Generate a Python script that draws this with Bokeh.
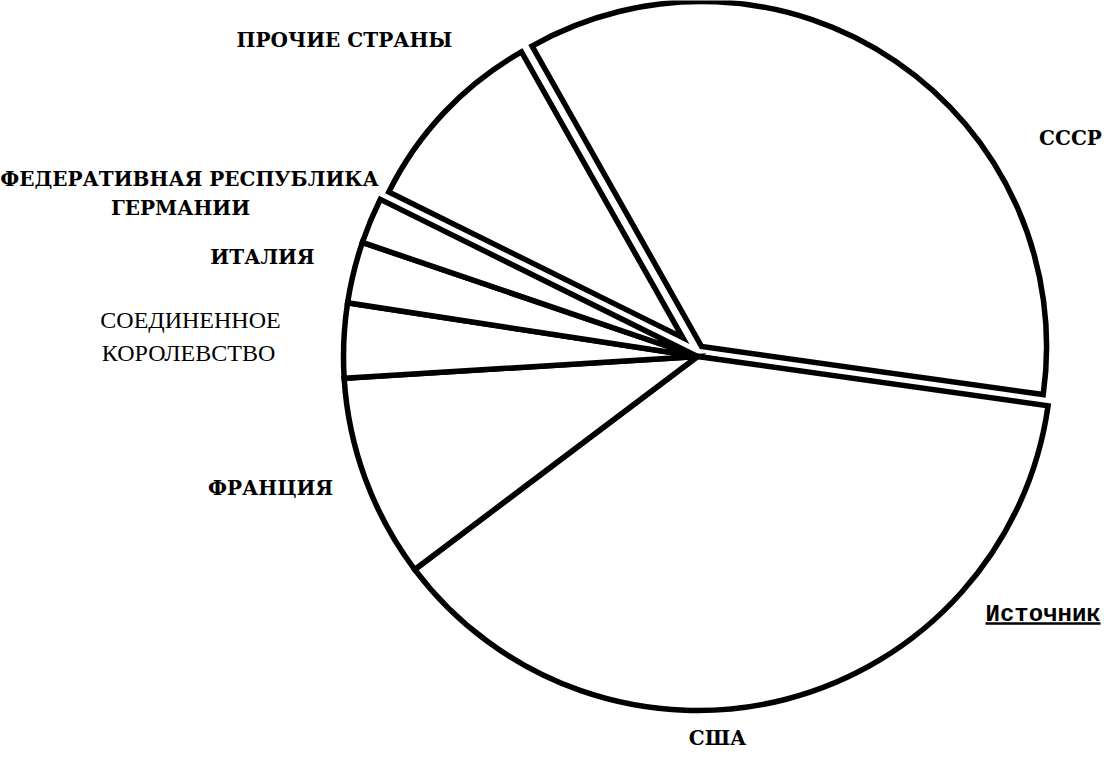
import math
from bokeh.plotting import figure
from bokeh.models import Range1d, Label, ColumnDataSource
from bokeh.embed import file_html
from bokeh.resources import INLINE

# ---------------- data ----------------
countries = ["США", "ФРАНЦИЯ", "СОЕДИНЕННОЕ КОРОЛЕВСТВО", "ИТАЛИЯ",
             "ФЕДЕРАТИВНАЯ РЕСПУБЛИКА ГЕРМАНИИ", "ПРОЧИЕ СТРАНЫ", "СССР"]
shares = [37.5, 9.3, 3.4, 2.8, 2.1, 9.5, 35.4]
label_lines = [["США"], ["ФРАНЦИЯ"], ["СОЕДИНЕННОЕ", "КОРОЛЕВСТВО"], ["ИТАЛИЯ"],
               ["ФЕДЕРАТИВНАЯ РЕСПУБЛИКА", "ГЕРМАНИИ"], ["ПРОЧИЕ СТРАНЫ"], ["СССР"]]
source_text = "Источник"

# ---------------- style / layout ----------------
W, H = 1104, 751
PAGE_H = 767
CX, CY_SCREEN = 705, 364          # pie centre in page pixels
R = 354
START_DEG = -8.0                  # boundary between СССР and США
explode = [0, 0, 0, 0, 0, 24, 10.8]          # pull-out distance (px)
explode_turn = [0, 0, 0, 0, 0, -8.5, 12.0]   # deviation from the bisector (deg)
radius_px = [354, 354, 354, 354, 354, 328, 345]
LINE_W = 5.5

def Y(sy):  # page pixel y -> data y
    return PAGE_H - sy

# label anchors (page pixels, centre of each line)
label_layout = {
    "США": [(725, 745)],
    "ФРАНЦИЯ": [(278, 495)],
    "СОЕДИНЕННОЕ КОРОЛЕВСТВО": [(198, 327), (196, 360)],
    "ИТАЛИЯ": [(270, 264)],
    "ФЕДЕРАТИВНАЯ РЕСПУБЛИКА ГЕРМАНИИ": [(197, 186), (188, 215)],
    "ПРОЧИЕ СТРАНЫ": [(352, 47)],
    "СССР": [(1078, 145)],
}
light_labels = {"СОЕДИНЕННОЕ КОРОЛЕВСТВО"}

p = figure(width=W, height=H, output_backend="svg", toolbar_location=None,
           x_range=Range1d(8, 8 + W), y_range=Range1d(PAGE_H - 8 - H, PAGE_H - 8),
           x_axis_location=None, y_axis_location=None, min_border=0)
p.grid.visible = False
p.outline_line_color = None
p.background_fill_color = "white"
p.border_fill_color = "white"

# ---------------- wedges ----------------
xs, ys, rs, a0, a1 = [], [], [], [], []
a = START_DEG
for v, ex, turn, rad in zip(shares, explode, explode_turn, radius_px):
    span = v * 3.6
    hi, lo = a, a - span
    a = lo
    mid = math.radians((hi + lo) / 2 + turn)
    xs.append(CX + ex * math.cos(mid))
    ys.append(Y(CY_SCREEN) + ex * math.sin(mid))
    rs.append(rad)
    a0.append(math.radians(lo))
    a1.append(math.radians(hi))

src = ColumnDataSource(dict(x=xs, y=ys, r=rs, start=a0, end=a1, name=countries, share=shares))
p.wedge(x="x", y="y", radius="r", start_angle="start", end_angle="end", source=src,
        fill_color="white", line_color="black", line_width=LINE_W, line_join="miter")

# ---------------- labels ----------------
for name, lines in zip(countries, label_lines):
    for txt, (lx, ly) in zip(lines, label_layout[name]):
        light = name in light_labels
        p.add_layout(Label(x=lx, y=Y(ly), text=txt, text_align="center",
                           text_baseline="middle",
                           text_font="Liberation Serif" if light else "DejaVu Serif",
                           text_font_style="normal" if light else "bold",
                           text_font_size="24px" if light else "20px",
                           text_color="black"))

# source note (underlined)
SX, SY = 993, 622
p.add_layout(Label(x=SX, y=Y(SY), text=source_text, text_align="left",
                   text_baseline="middle", text_font="Liberation Mono",
                   text_font_style="bold", text_font_size="24px", text_color="black"))
p.segment(x0=[SX], y0=[Y(SY + 9)], x1=[SX + 115], y1=[Y(SY + 9)],
          line_color="black", line_width=2.5)

open("out.html", "w").write(file_html(p, INLINE))
